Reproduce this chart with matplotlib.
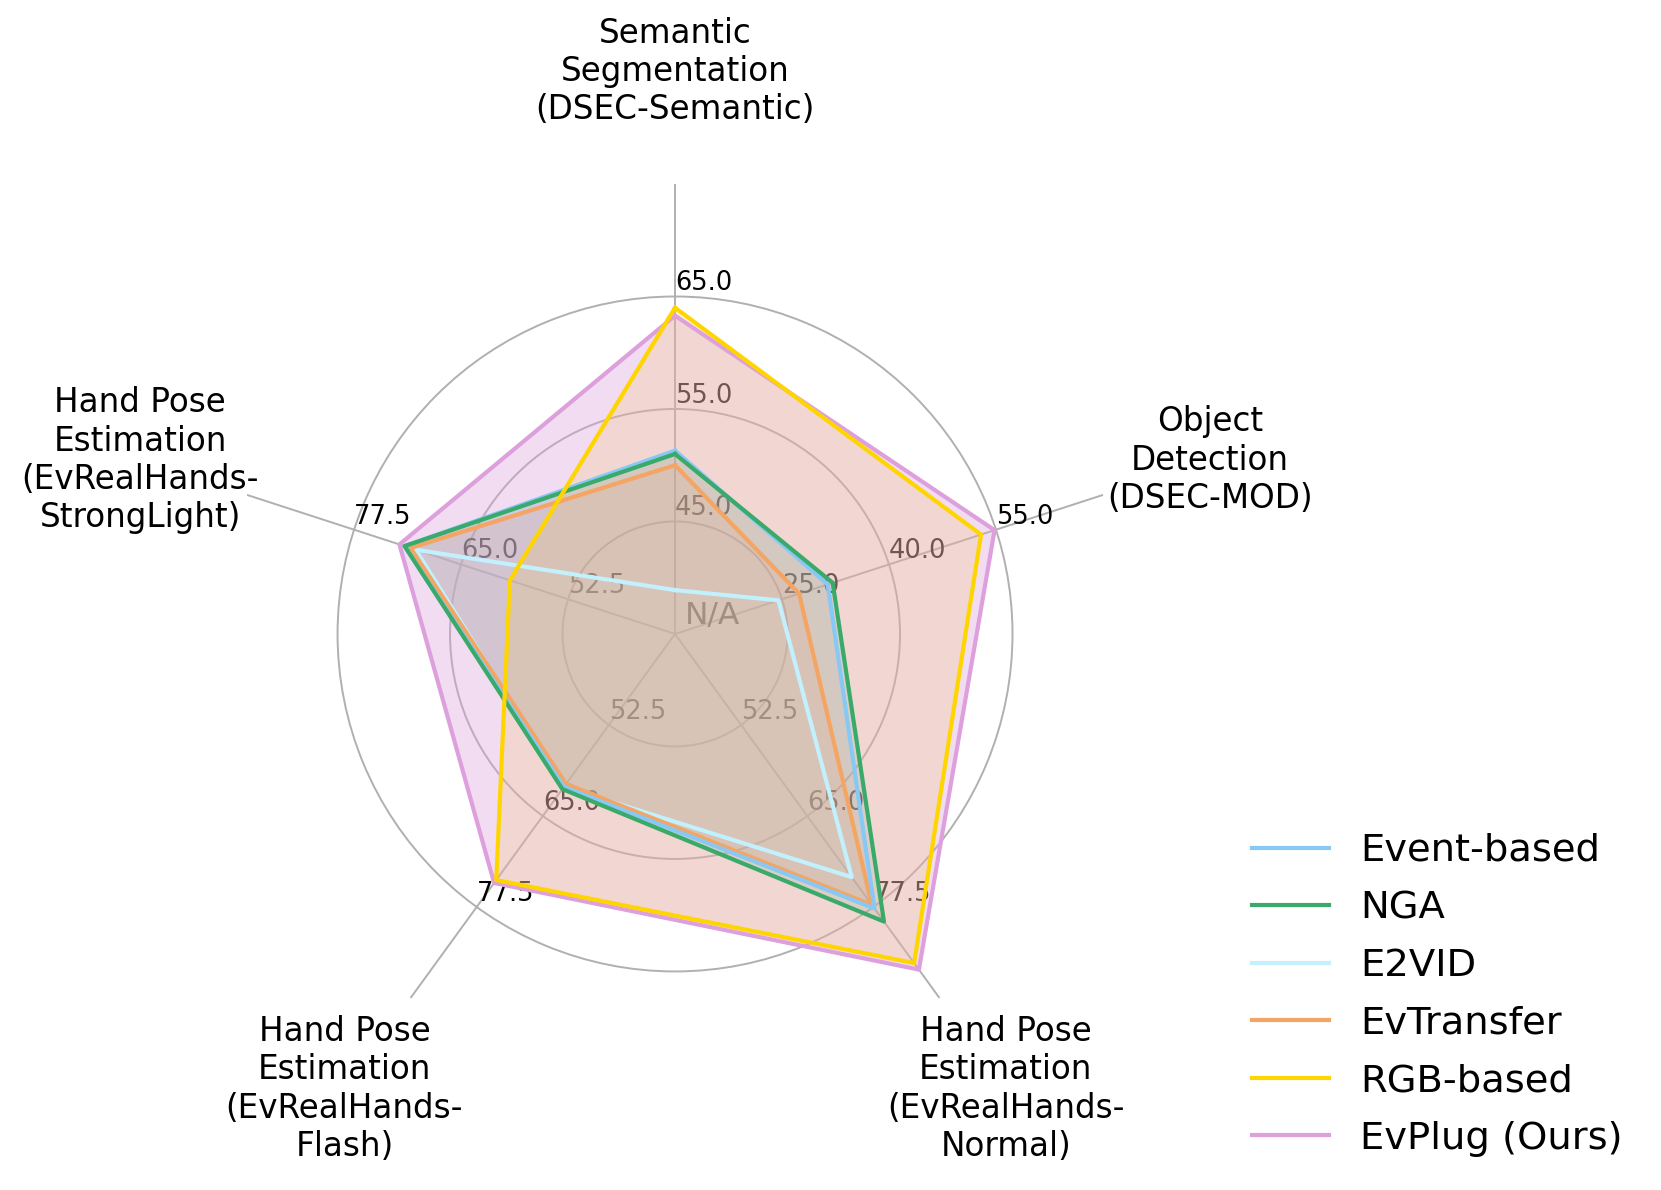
import numpy as np
import matplotlib
matplotlib.use("Agg")
import matplotlib.pyplot as plt

# axes of the radar, clockwise from the top
axis_labels = ["Semantic\nSegmentation\n(DSEC-Semantic)",
               "Object\nDetection\n(DSEC-MOD)",
               "Hand Pose\nEstimation\n(EvRealHands-\nNormal)",
               "Hand Pose\nEstimation\n(EvRealHands-\nFlash)",
               "Hand Pose\nEstimation\n(EvRealHands-\nStrongLight)"]

# ring values of each axis (rings 1, 2, 3)
ring_ticks = [[45.0, 55.0, 65.0],
              [25.0, 40.0, 55.0],
              [52.5, 65.0, 77.5],
              [52.5, 65.0, 77.5],
              [52.5, 65.0, 77.5]]

methods = ["Event-based", "NGA", "E2VID", "EvTransfer", "RGB-based", "EvPlug (Ours)"]
colors = ["#87c8f5", "#3aaa6a", "#c2f0fc", "#f4a564", "#ffd500", "#dda0dd"]
fill_alpha = [0.2, 0.2, 0.2, 0.2, 0.2, 0.37]

# scores: semantic, object, normal, flash, stronglight
event_based = [51.3, 31.4, 77.7, 61.0, 71.6]
nga = [51.0, 32.1, 79.5, 61.3, 71.6]
e2vid = [38.9, 24.5, 73.4, 61.0, 70.3]   # semantic is N/A
evtransfer = [50.0, 27.4, 77.2, 60.6, 70.9]
rgb_based = [64.0, 52.9, 85.2, 73.8, 59.3]
evplug = [63.3, 54.8, 86.1, 74.2, 72.2]

scores = [event_based, nga, e2vid, evtransfer, rgb_based, evplug]


def to_radius(vals):
    # every axis has its own linear scale: ring k <-> ring_ticks[i][k-1]
    r = []
    for i, v in enumerate(vals):
        step = ring_ticks[i][1] - ring_ticks[i][0]
        r.append((v - ring_ticks[i][0]) / step + 1)
    return r


n = len(axis_labels)
angles = np.linspace(0, 2 * np.pi, n, endpoint=False)

fig = plt.figure(figsize=(16.61, 11.9), dpi=100)
ax = fig.add_axes([0.1355, 0.0891, 0.5418, 0.7563], projection="polar")
ax.set_theta_offset(np.pi / 2)
ax.set_theta_direction(-1)
ax.set_ylim(0, 4)
ax.set_axisbelow(True)
ax.set_xticks(angles)
ax.set_xticklabels([])
ax.set_yticks([1, 2, 3])
ax.set_yticklabels([])
ax.grid(True, color="#b0b0b0", linewidth=1.4)
ax.spines["polar"].set_visible(False)

# per-axis ring labels (drawn under the fills)
for i in range(n):
    for k, t in enumerate(ring_ticks[i]):
        ax.text(angles[i], k + 1, f"{t:.1f}", ha="left", va="bottom",
                fontsize=18.5, color="black", zorder=0.8)
ax.annotate("N/A", xy=(angles[0], 0), xytext=(7, 3), textcoords="offset points",
            ha="left", va="bottom", fontsize=22.5, color="black", zorder=0.8)

ang_closed = np.concatenate([angles, angles[:1]])
for j in range(len(methods)):
    r = to_radius(scores[j])
    r = r + r[:1]
    ax.fill(ang_closed, r, color=colors[j], alpha=fill_alpha[j], zorder=1,
            linewidth=0)

order = [5, 2, 3, 0, 1, 4]
handles = {}
for j in order:
    r = to_radius(scores[j])
    r = r + r[:1]
    handles[j], = ax.plot(ang_closed, r, color=colors[j], linewidth=3,
                          label=methods[j], zorder=2)

for i in range(n):
    ax.text(angles[i], 5.0, axis_labels[i], ha="center", va="center",
            fontsize=23.5, clip_on=False)

fig.legend([handles[j] for j in range(len(methods))], methods,
           loc="center left", bbox_to_anchor=(0.733, 0.164),
           fontsize=27.7, frameon=False, handlelength=2.0, labelspacing=0.56)

fig.savefig("out.png", dpi=100)
